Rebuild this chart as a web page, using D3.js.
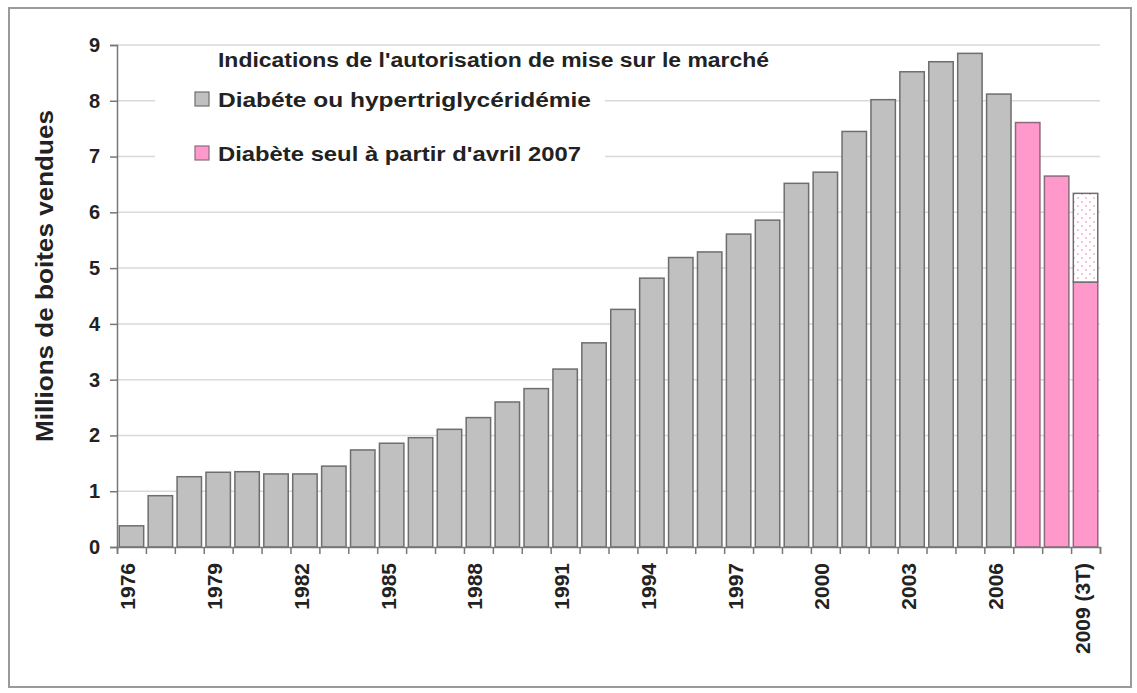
<!DOCTYPE html>
<meta charset="utf-8">
<head>
<script src="https://d3js.org/d3.v7.min.js"></script>
<style>
  body { margin: 0; background: #fff; }
  text { font-family: "Liberation Sans", Arial, sans-serif; font-weight: bold; fill: #222; }
</style>
</head>
<body>
<svg id="chart" width="1137" height="693"></svg>

<script>
// years on the x axis
var years = ["1976","1977","1978","1979","1980","1981","1982","1983","1984","1985",
             "1986","1987","1988","1989","1990","1991","1992","1993","1994","1995",
             "1996","1997","1998","1999","2000","2001","2002","2003","2004","2005",
             "2006","2007","2008","2009"];
// millions of boxes sold
var boxes = [0.38, 0.92, 1.26, 1.34, 1.35, 1.31, 1.31, 1.45, 1.74, 1.86,
             1.96, 2.11, 2.32, 2.60, 2.84, 3.19, 3.66, 4.26, 4.82, 5.19,
             5.29, 5.61, 5.86, 6.52, 6.72, 7.45, 8.02, 8.52, 8.70, 8.85,
             8.12, 7.61, 6.65, 4.75];
// 2009 : only 3 quarters known, the rest is the projected year
var projected = {"2009": 6.34};
var indication = ["large","large","large","large","large","large","large","large","large","large",
                  "large","large","large","large","large","large","large","large","large","large",
                  "large","large","large","large","large","large","large","large","large","large",
                  "large","seul","seul","seul"];
var tickLabels = {"1976":"1976","1979":"1979","1982":"1982","1985":"1985","1988":"1988",
                  "1991":"1991","1994":"1994","1997":"1997","2000":"2000","2003":"2003",
                  "2006":"2006","2009":"2009 (3T)"};
var legendTitle = "Indications de l'autorisation de mise sur le marché";
var legendItems = [
  {key: "large", label: "Diabéte ou hypertriglycéridémie"},
  {key: "seul",  label: "Diabète seul à partir d'avril 2007"}
];

var svg = d3.select("#chart");
var plotLeft = 117, plotRight = 1100, plotTop = 45, plotBottom = 547;

var fill = {large: "#c0c0c0", seul: "#ff99cc"};
var stroke = {large: "#6e6e6e", seul: "#8c6a7c"};

// outer frame
svg.append("rect")
  .attr("x", 9).attr("y", 8).attr("width", 1122).attr("height", 679)
  .attr("fill", "#fff").attr("stroke", "#9a9a9a").attr("stroke-width", 2);

// dotted pattern for the projected part of 2009
var pat = svg.append("defs").append("pattern")
  .attr("id", "dots").attr("patternUnits", "userSpaceOnUse")
  .attr("width", 8).attr("height", 8);
pat.append("rect").attr("width", 8).attr("height", 8).attr("fill", "#fff");
pat.append("circle").attr("cx", 2).attr("cy", 2).attr("r", 0.9).attr("fill", "#f4a6cc");
pat.append("circle").attr("cx", 6).attr("cy", 6).attr("r", 0.9).attr("fill", "#f4a6cc");

var y = d3.scaleLinear().domain([0, 9]).range([plotBottom, plotTop]);
var x = d3.scaleBand().domain(years).range([plotLeft, plotRight])
  .paddingInner(0.155).paddingOuter(0.0775);
var xb = d3.scaleLinear().domain([0, years.length]).range([plotLeft, plotRight]);

// gridlines
svg.append("g")
  .selectAll("line")
  .data(y.ticks(9).filter(function (d) { return d > 0; }))
  .enter().append("line")
    .attr("x1", plotLeft).attr("x2", plotRight)
    .attr("y1", function (d) { return y(d); })
    .attr("y2", function (d) { return y(d); })
    .attr("stroke", "#d9d9d9").attr("stroke-width", 1.5);

// legend background hides the grid behind it
svg.append("rect")
  .attr("x", 155).attr("y", 52).attr("width", 450).attr("height", 130)
  .attr("fill", "#fff");

// bars
var bars = svg.append("g");
bars.selectAll("rect.main")
  .data(years)
  .enter().append("rect")
    .attr("class", "main")
    .attr("x", function (d) { return x(d); })
    .attr("width", x.bandwidth())
    .attr("y", function (d, i) { return y(boxes[i]); })
    .attr("height", function (d, i) { return y(0) - y(boxes[i]); })
    .attr("fill", function (d, i) { return fill[indication[i]]; })
    .attr("stroke", function (d, i) { return stroke[indication[i]]; })
    .attr("stroke-width", 1.5);

bars.selectAll("rect.proj")
  .data(Object.keys(projected))
  .enter().append("rect")
    .attr("class", "proj")
    .attr("x", function (d) { return x(d); })
    .attr("width", x.bandwidth())
    .attr("y", function (d) { return y(projected[d]); })
    .attr("height", function (d) { return y(boxes[years.indexOf(d)]) - y(projected[d]); })
    .attr("fill", "url(#dots)")
    .attr("stroke", "#6e6e6e").attr("stroke-width", 1.5);

// y axis
var yAxis = svg.append("g")
  .attr("transform", "translate(" + plotLeft + ",0)")
  .call(d3.axisLeft(y).ticks(9).tickSize(7).tickPadding(10).tickFormat(d3.format("d")));
yAxis.select(".domain").attr("stroke", "#777").attr("stroke-width", 1.5);
yAxis.selectAll(".tick line").attr("stroke", "#777").attr("stroke-width", 1.5);
yAxis.selectAll(".tick text")
  .attr("font-size", 20).attr("font-family", null).attr("fill", "#222");

// x axis, ticks between the bars
var xAxis = svg.append("g")
  .attr("transform", "translate(0," + plotBottom + ")")
  .call(d3.axisBottom(xb).ticks(years.length).tickSize(7).tickFormat(""));
xAxis.select(".domain").attr("stroke", "#777").attr("stroke-width", 1.5);
xAxis.selectAll(".tick line").attr("stroke", "#777").attr("stroke-width", 1.5);

svg.append("g")
  .selectAll("text")
  .data(years.filter(function (d) { return tickLabels[d]; }))
  .enter().append("text")
    .attr("transform", function (d) {
      return "translate(" + (x(d) + x.bandwidth() / 2 + 4) + "," + (plotBottom + 16) + ") rotate(-90)";
    })
    .attr("text-anchor", "end")
    .attr("font-size", 21)
    .text(function (d) { return tickLabels[d]; });

// y axis title
svg.append("text")
  .attr("transform", "translate(53," + 276 + ") rotate(-90)")
  .attr("text-anchor", "middle")
  .attr("font-size", 23)
  .attr("textLength", 332).attr("lengthAdjust", "spacingAndGlyphs")
  .text("Millions de boites vendues");

// legend
svg.append("text")
  .attr("x", 218).attr("y", 67)
  .attr("font-size", 20)
  .attr("textLength", 551).attr("lengthAdjust", "spacingAndGlyphs")
  .text(legendTitle);

var lg = svg.append("g").selectAll("g")
  .data(legendItems)
  .enter().append("g")
    .attr("transform", function (d, i) { return "translate(195," + (92 + i * 54) + ")"; });
lg.append("rect")
  .attr("width", 14).attr("height", 14)
  .attr("fill", function (d) { return fill[d.key]; })
  .attr("stroke", function (d) { return stroke[d.key]; })
  .attr("stroke-width", 1.2);
lg.append("text")
  .attr("x", 23).attr("y", 15)
  .attr("font-size", 21)
  .attr("textLength", function (d, i) { return i === 0 ? 373 : 363; })
  .attr("lengthAdjust", "spacingAndGlyphs")
  .text(function (d) { return d.label; });
</script>
</body>
